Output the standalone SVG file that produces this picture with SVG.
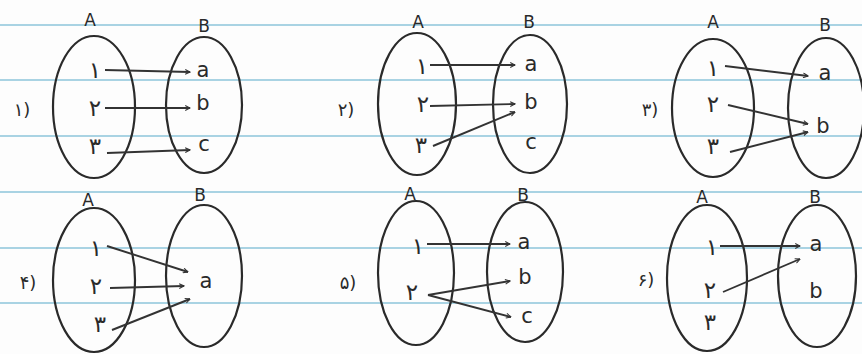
<svg xmlns="http://www.w3.org/2000/svg" width="862" height="354" viewBox="0 0 862 354">
<defs>
<style>
.rule{stroke:#a9d3e3;stroke-width:2}
.set{fill:none;stroke:#2a2a2a;stroke-width:2.2}
.num{font-family:"DejaVu Sans",sans-serif;font-size:23px;fill:#2a2a2a;text-anchor:middle}
.let{font-family:"DejaVu Sans",sans-serif;font-size:21px;fill:#2a2a2a;text-anchor:middle}
.ttl{font-family:"DejaVu Sans",sans-serif;font-size:17px;fill:#2a2a2a;text-anchor:middle}
.lbl{font-family:"DejaVu Sans",sans-serif;font-size:18px;fill:#2a2a2a;text-anchor:middle}
.arr{fill:none;stroke:#333;stroke-width:1.9;marker-end:url(#ah)}
</style>
<marker id="ah" viewBox="0 0 10 10" refX="9" refY="5" markerWidth="6" markerHeight="6" orient="auto" markerUnits="userSpaceOnUse">
<path d="M1,1 L9,5 L1,9" fill="none" stroke="#333" stroke-width="1.8"/>
</marker>
</defs>
<rect width="862" height="354" fill="#fdfdfd"/>
<g id="rules">
<line class="rule" x1="0" y1="25" x2="862" y2="25"/>
<line class="rule" x1="0" y1="80" x2="862" y2="80"/>
<line class="rule" x1="0" y1="136" x2="862" y2="136"/>
<line class="rule" x1="0" y1="192" x2="862" y2="192"/>
<line class="rule" x1="0" y1="248" x2="862" y2="248"/>
<line class="rule" x1="0" y1="303" x2="862" y2="303"/>
</g>

<!-- Panel 1 -->
<g id="p1-label"><text class="lbl" x="22" y="116">۱)</text></g>
<g id="p1-A">
<ellipse class="set" cx="94" cy="107" rx="41" ry="71"/>
<text class="ttl" x="90" y="26">A</text>
<text class="num" x="95" y="78">۱</text>
<text class="num" x="95" y="116">۲</text>
<text class="num" x="95" y="154">۳</text>
</g>
<g id="p1-B">
<ellipse class="set" cx="204" cy="105" rx="38" ry="68"/>
<text class="ttl" x="204" y="32">B</text>
<text class="let" x="203" y="77">a</text>
<text class="let" x="203" y="110">b</text>
<text class="let" x="204" y="151">c</text>
</g>

<!-- Panel 2 -->
<g id="p2-label"><text class="lbl" x="346" y="116">۲)</text></g>
<g id="p2-A">
<ellipse class="set" cx="417" cy="104" rx="39" ry="71"/>
<text class="ttl" x="418" y="28">A</text>
<text class="num" x="422" y="74">۱</text>
<text class="num" x="423" y="112">۲</text>
<text class="num" x="421" y="153">۳</text>
</g>
<g id="p2-B">
<ellipse class="set" cx="530" cy="104" rx="37" ry="69"/>
<text class="ttl" x="529" y="28">B</text>
<text class="let" x="531" y="71">a</text>
<text class="let" x="531" y="109">b</text>
<text class="let" x="531" y="149">c</text>
</g>

<!-- Panel 3 -->
<g id="p3-label"><text class="lbl" x="650" y="116">۳)</text></g>
<g id="p3-A">
<ellipse class="set" cx="713" cy="108" rx="41" ry="69"/>
<text class="ttl" x="713" y="28">A</text>
<text class="num" x="713" y="76">۱</text>
<text class="num" x="713" y="112">۲</text>
<text class="num" x="713" y="154">۳</text>
</g>
<g id="p3-B">
<ellipse class="set" cx="826" cy="108" rx="38" ry="70"/>
<text class="ttl" x="825" y="31">B</text>
<text class="let" x="825" y="80">a</text>
<text class="let" x="823" y="133">b</text>
</g>

<!-- Panel 4 -->
<g id="p4-label"><text class="lbl" x="28" y="289">۴)</text></g>
<g id="p4-A">
<ellipse class="set" cx="94" cy="280" rx="41" ry="72"/>
<text class="ttl" x="88" y="206">A</text>
<text class="num" x="96" y="256">۱</text>
<text class="num" x="96" y="294">۲</text>
<text class="num" x="100" y="332">۳</text>
</g>
<g id="p4-B">
<ellipse class="set" cx="204" cy="276" rx="38" ry="71"/>
<text class="ttl" x="200" y="201">B</text>
<text class="let" x="206" y="288">a</text>
</g>

<!-- Panel 5 -->
<g id="p5-label"><text class="lbl" x="348" y="289">۵)</text></g>
<g id="p5-A">
<ellipse class="set" cx="416" cy="273" rx="38" ry="72"/>
<text class="ttl" x="410" y="200">A</text>
<text class="num" x="418" y="254">۱</text>
<text class="num" x="412" y="300">۲</text>
</g>
<g id="p5-B">
<ellipse class="set" cx="525" cy="272" rx="38" ry="70"/>
<text class="ttl" x="523" y="201">B</text>
<text class="let" x="524" y="249">a</text>
<text class="let" x="525" y="284">b</text>
<text class="let" x="527" y="323">c</text>
</g>

<!-- Panel 6 -->
<g id="p6-label"><text class="lbl" x="646" y="286">۶)</text></g>
<g id="p6-A">
<ellipse class="set" cx="707" cy="278" rx="40" ry="73"/>
<text class="ttl" x="702" y="203">A</text>
<text class="num" x="712" y="255">۱</text>
<text class="num" x="710" y="298">۲</text>
<text class="num" x="710" y="330">۳</text>
</g>
<g id="p6-B">
<ellipse class="set" cx="817" cy="276" rx="39" ry="71"/>
<text class="ttl" x="815" y="203">B</text>
<text class="let" x="816" y="251">a</text>
<text class="let" x="816" y="298">b</text>
</g>

<g id="connectors">
<line class="arr" x1="105" y1="70" x2="190" y2="72"/>
<line class="arr" x1="105" y1="108" x2="190" y2="108"/>
<line class="arr" x1="107" y1="153" x2="190" y2="150"/>

<line class="arr" x1="430" y1="65" x2="515" y2="65"/>
<line class="arr" x1="430" y1="106" x2="515" y2="104"/>
<line class="arr" x1="433" y1="146" x2="515" y2="112"/>

<line class="arr" x1="725" y1="66" x2="808" y2="76"/>
<line class="arr" x1="728" y1="105" x2="808" y2="124"/>
<line class="arr" x1="730" y1="152" x2="808" y2="132"/>

<line class="arr" x1="107" y1="246" x2="188" y2="272"/>
<line class="arr" x1="110" y1="288" x2="184" y2="286"/>
<line class="arr" x1="112" y1="330" x2="190" y2="299"/>

<line class="arr" x1="427" y1="244" x2="510" y2="244"/>
<line class="arr" x1="428" y1="295" x2="510" y2="281"/>
<line class="arr" x1="428" y1="295" x2="511" y2="317"/>

<line class="arr" x1="720" y1="246" x2="800" y2="246"/>
<line class="arr" x1="723" y1="292" x2="800" y2="259"/>
</g>
</svg>
